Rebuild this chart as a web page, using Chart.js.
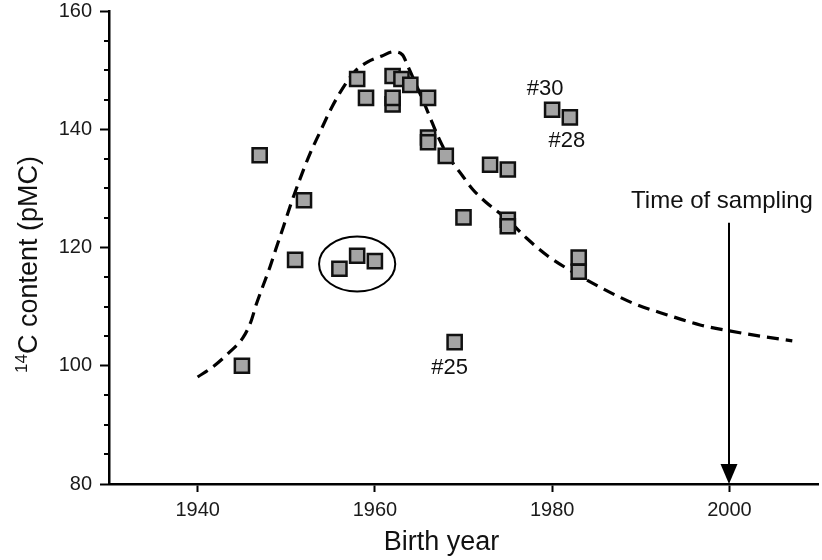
<!DOCTYPE html>
<html>
<head>
<meta charset="utf-8">
<script src="https://cdn.jsdelivr.net/npm/chart.js@4/dist/chart.umd.min.js"></script>
<style>
html,body{margin:0;padding:0;background:#fff;}
#wrap{width:822px;height:560px;position:relative;}
</style>
</head>
<body>
<div id="wrap"><canvas id="c" width="822" height="560"></canvas></div>
<script>
// ---- data ----
const birthYears = [1945, 1947, 1951, 1952, 1956, 1958, 1960, 1958, 1959, 1962, 1962, 1962, 1963, 1964, 1966, 1966, 1966, 1968, 1969, 1970, 1973, 1975, 1975, 1975, 1980, 1982, 1983, 1983];
const c14Values  = [100.0, 135.6, 117.9, 128.0, 116.4, 118.6, 117.7, 148.5, 145.3, 144.2, 145.3, 149.0, 148.5, 147.5, 145.3, 138.6, 137.8, 135.5, 104.0, 125.1, 134.0, 133.2, 124.7, 123.6, 143.3, 142.0, 118.3, 115.9];

const curveYears  = [1940.0, 1941.7, 1943.6, 1945.1, 1946.0, 1946.6, 1947.3, 1948.0, 1948.8, 1949.7, 1950.6, 1951.5, 1952.6, 1953.8, 1955.1, 1956.4, 1957.7, 1959.2, 1960.8, 1962.1, 1963.1, 1963.8, 1964.6, 1965.4, 1966.2, 1967.0, 1967.8, 1968.7, 1969.8, 1971.0, 1972.5, 1974.1, 1975.6, 1977.1, 1979.4, 1981.4, 1985.4, 1989.1, 1993.0, 1996.7, 2000.0, 2003.5, 2007.1];
const curveValues = [98.1, 99.8, 102.3, 104.7, 107.4, 110.3, 113.2, 116.0, 119.6, 123.6, 127.7, 131.4, 135.6, 139.5, 143.6, 147.0, 149.7, 151.4, 152.4, 153.1, 152.6, 150.4, 147.7, 145.0, 142.1, 139.2, 136.7, 134.5, 132.3, 129.9, 127.7, 125.8, 123.8, 121.6, 118.7, 116.7, 113.3, 110.6, 108.6, 106.9, 105.9, 105.0, 104.2];

const xTickValues = [1940, 1960, 1980, 2000];
const yTickValues = [80, 85, 90, 95, 100, 105, 110, 115, 120, 125, 130, 135, 140, 145, 150, 155, 160];
const yLabelStep = 20;

const sampleLabelTexts  = ['#30', '#28', '#25'];
const sampleLabelYears  = [1980, 1982, 1969];
const sampleLabelValues = [143.3, 142.0, 104.0];

const samplingYear = 2000;
const samplingArrowTopValue = 124.2;
const samplingText = 'Time of sampling';

const circleCenterYear = 1958;
const circleCenterValue = 117.2;
const circleHalfYears = 4.3;
const circleHalfValue = 4.65;

const xTitle = 'Birth year';
const yTitleSup = '14';
const yTitleMain = 'C content (pMC)';

// ---- chart ----
const FONT = '"Liberation Sans", Arial, sans-serif';

const annotPlugin = {
  id: 'annot',
  afterDraw(chart) {
    const ctx = chart.ctx;
    const xs = chart.scales.x, ys = chart.scales.y;
    const area = chart.chartArea;
    ctx.save();
    // minor y ticks
    ctx.strokeStyle = '#000';
    ctx.lineWidth = 2;
    yTickValues.forEach(v => {
      if (v % yLabelStep !== 0) {
        const py = Math.round(ys.getPixelForValue(v));
        ctx.beginPath();
        ctx.moveTo(area.left - 5, py);
        ctx.lineTo(area.left, py);
        ctx.stroke();
      }
    });
    // ellipse around the three points
    const cx = xs.getPixelForValue(circleCenterYear);
    const cy = ys.getPixelForValue(circleCenterValue);
    const rx = Math.abs(xs.getPixelForValue(circleCenterYear + circleHalfYears) - cx);
    const ry = Math.abs(ys.getPixelForValue(circleCenterValue + circleHalfValue) - cy);
    ctx.beginPath();
    ctx.ellipse(cx, cy, rx, ry, 0, 0, Math.PI * 2);
    ctx.lineWidth = 2;
    ctx.stroke();
    // arrow for time of sampling
    const ax = Math.round(xs.getPixelForValue(samplingYear));
    const aTop = ys.getPixelForValue(samplingArrowTopValue);
    const aBot = area.bottom;
    const headLen = 20, headHalf = 8.5;
    ctx.beginPath();
    ctx.moveTo(ax, aTop);
    ctx.lineTo(ax, aBot - headLen + 2);
    ctx.lineWidth = 2;
    ctx.stroke();
    ctx.beginPath();
    ctx.moveTo(ax - headHalf, aBot - headLen);
    ctx.lineTo(ax + headHalf, aBot - headLen);
    ctx.lineTo(ax, aBot);
    ctx.closePath();
    ctx.fillStyle = '#000';
    ctx.fill();
    ctx.font = '24px ' + FONT;
    ctx.textAlign = 'center';
    ctx.textBaseline = 'alphabetic';
    ctx.fillStyle = '#111';
    ctx.fillText(samplingText, ax - 7, aTop - 15);
    // sample labels
    const offs = [[-7, -15], [-3, 30], [-5, 32]];
    ctx.font = '22px ' + FONT;
    sampleLabelTexts.forEach((t, i) => {
      const px = xs.getPixelForValue(sampleLabelYears[i]);
      const py = ys.getPixelForValue(sampleLabelValues[i]);
      ctx.fillText(t, px + offs[i][0], py + offs[i][1]);
    });
    // x axis title
    ctx.font = '27px ' + FONT;
    ctx.textAlign = 'center';
    ctx.fillText(xTitle, (area.left + area.right) / 2 - 22, 550);
    // y axis title with superscript
    ctx.save();
    ctx.translate(27, (area.top + area.bottom) / 2 + 17);
    ctx.rotate(-Math.PI / 2);
    const supFont = '17px ' + FONT, mainFont = '27px ' + FONT;
    ctx.font = supFont; const w1 = ctx.measureText(yTitleSup).width;
    ctx.font = mainFont; const w2 = ctx.measureText(yTitleMain).width;
    const x0 = -(w1 + w2) / 2;
    ctx.textAlign = 'left';
    ctx.font = supFont; ctx.fillText(yTitleSup, x0, 0);
    ctx.font = mainFont; ctx.fillText(yTitleMain, x0 + w1, 10);
    ctx.restore();
    ctx.restore();
  }
};

const chart = new Chart(document.getElementById('c'), {
  type: 'scatter',
  data: {
    datasets: [
      {
        label: 'Samples',
        order: 0,
        data: birthYears.map((x, i) => ({ x: x, y: c14Values[i] })),
        pointStyle: 'rect',
        pointRadius: 10,
        pointHoverRadius: 10,
        backgroundColor: '#a4a4a4',
        borderColor: '#111',
        borderWidth: 2.5
      },
      {
        type: 'line',
        label: 'Atmospheric 14C',
        order: 1,
        data: curveYears.map((x, i) => ({ x: x, y: curveValues[i] })),
        showLine: true,
        pointRadius: 0,
        borderColor: '#000',
        borderWidth: 3.2,
        borderDash: [12, 7],
        cubicInterpolationMode: 'monotone',
        fill: false
      }
    ]
  },
  options: {
    responsive: false,
    animation: false,
    devicePixelRatio: 1,
    layout: { autoPadding: false, padding: { top: 11, right: 4, left: 0, bottom: 0 } },
    plugins: { legend: { display: false }, tooltip: { enabled: false } },
    scales: {
      x: {
        type: 'linear',
        min: 1930,
        max: 2010,
        afterBuildTicks: (s) => { s.ticks = xTickValues.map(v => ({ value: v })); },
        afterFit: (s) => { s.height = 76; s.paddingLeft = 0; s.paddingRight = 0; },
        grid: { drawOnChartArea: false, drawTicks: true, tickLength: 8, tickWidth: 2, tickColor: '#000' },
        border: { display: true, color: '#000', width: 2.5 },
        ticks: {
          font: { size: 20, family: FONT }, color: '#1a1a1a', padding: 6, autoSkip: false, maxRotation: 0,
          callback: (v) => String(v)
        }
      },
      y: {
        type: 'linear',
        min: 80,
        max: 160,
        afterBuildTicks: (s) => { s.ticks = yTickValues.map(v => ({ value: v })); },
        afterFit: (s) => { s.width = 109; s.paddingTop = 0; s.paddingBottom = 0; },
        grid: {
          drawOnChartArea: false, drawTicks: true, tickLength: 9, tickWidth: 2,
          tickColor: (c) => (c.tick && c.tick.value % yLabelStep === 0) ? '#000' : 'rgba(0,0,0,0)'
        },
        border: { display: true, color: '#000', width: 2.5 },
        ticks: {
          font: { size: 20, family: FONT }, color: '#1a1a1a', padding: 8, autoSkip: false,
          callback: (v) => (v % yLabelStep === 0 ? String(v) : '')
        }
      }
    }
  },
  plugins: [annotPlugin]
});
</script>
</body>
</html>
